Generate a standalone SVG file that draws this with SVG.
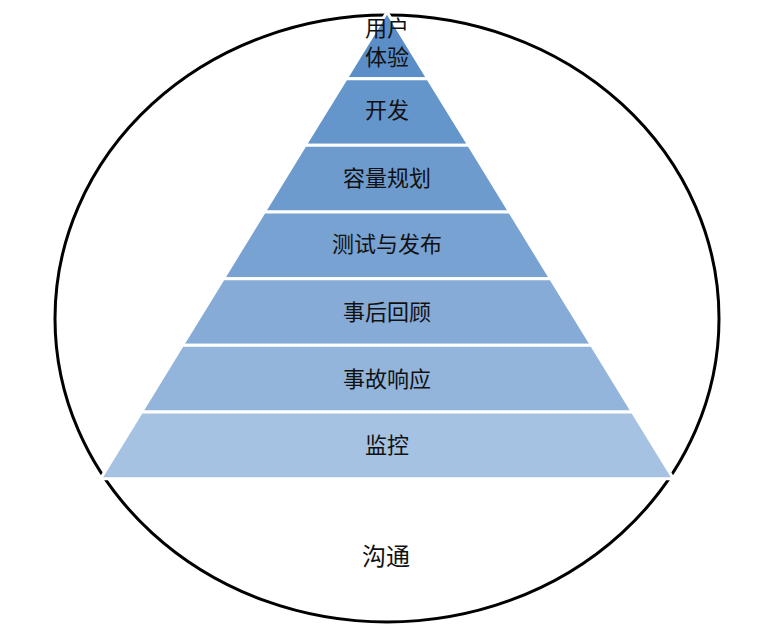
<svg xmlns="http://www.w3.org/2000/svg" width="761" height="630" viewBox="0 0 761 630">
<style>
.lbl{font-family:"Noto Sans CJK SC","Liberation Sans",sans-serif;font-size:22px;fill:#111;text-anchor:middle;dominant-baseline:central}
.layer{stroke:#fff;stroke-width:3;stroke-linejoin:miter}
</style>
<rect width="761" height="630" fill="#fff"/>
<g id="circle">
<ellipse cx="387" cy="318.5" rx="332" ry="303.5" fill="none" stroke="#000" stroke-width="3"/>
</g>
<g id="pyramid">
<g id="layer1"><polygon class="layer" fill="#5b8ec7" points="387,12 427.9,78.7 346.1,78.7"/></g>
<g id="layer2"><polygon class="layer" fill="#6495cb" points="346.1,78.7 427.9,78.7 468.9,145.3 305.1,145.3"/></g>
<g id="layer3"><polygon class="layer" fill="#6e9bce" points="305.1,145.3 468.9,145.3 509.8,212 264.2,212"/></g>
<g id="layer4"><polygon class="layer" fill="#78a2d1" points="264.2,212 509.8,212 550.7,278.7 223.3,278.7"/></g>
<g id="layer5"><polygon class="layer" fill="#85abd6" points="223.3,278.7 550.7,278.7 591.6,345.3 182.4,345.3"/></g>
<g id="layer6"><polygon class="layer" fill="#93b5db" points="182.4,345.3 591.6,345.3 632.5,412 141.5,412"/></g>
<g id="layer7"><polygon class="layer" fill="#a6c2e3" points="141.5,412 632.5,412 673.5,478.7 100.5,478.7"/></g>
</g>
<g id="labels">
<text class="lbl" x="387" y="26">用户</text>
<text class="lbl" x="387" y="55">体验</text>
<text class="lbl" x="387" y="108">开发</text>
<text class="lbl" x="387" y="175.5">容量规划</text>
<text class="lbl" x="387" y="242">测试与发布</text>
<text class="lbl" x="387" y="310">事后回顾</text>
<text class="lbl" x="387" y="377">事故响应</text>
<text class="lbl" x="387" y="443">监控</text>
<text class="lbl" x="386" y="554.5" style="font-size:24px">沟通</text>
</g>
<g id="connectors"/>
</svg>
